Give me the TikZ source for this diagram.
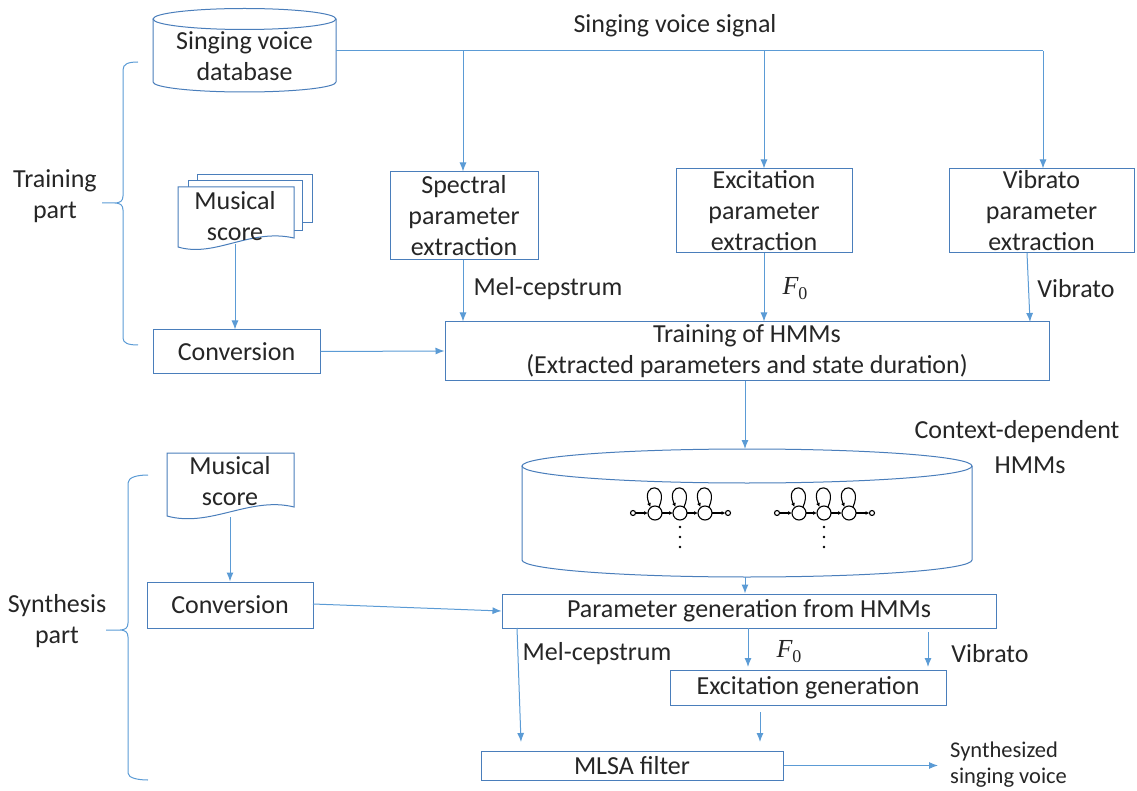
\documentclass[tikz,border=0pt]{standalone}
\usepackage{fontspec}
\setmainfont{Carlito}
\newfontfamily\serifm{Liberation Serif}
\usetikzlibrary{arrows.meta}
\definecolor{boxc}{HTML}{4A7EBB}
\definecolor{linec}{HTML}{5B9BD5}
\definecolor{txt}{HTML}{262626}
\newcommand{\Fzero}{{\serifm\itshape F}{\serifm\raisebox{-5pt}{\fontsize{18}{18}\selectfont 0}}}
\newcommand{\hmmchain}[2]{%
 \begin{scope}[shift={(#1,#2)}, black, line width=1.1pt]
  \draw (0,0) circle[radius=2.5pt];
  \foreach \s in {22,47,72} {
    \draw (\s,0) circle[radius=7pt];
    \draw[-{Latex[length=4pt,width=4pt]}] (\s+4,-6) .. controls (\s+15,-31) and (\s-15,-31) .. (\s-4.5,-6);
  }
  \draw[-{Latex[length=4pt,width=4pt]}] (2.5,0) -- (15,0);
  \draw[-{Latex[length=4pt,width=4pt]}] (29,0) -- (40,0);
  \draw[-{Latex[length=4pt,width=4pt]}] (54,0) -- (65,0);
  \draw[-{Latex[length=4pt,width=4pt]}] (79,0) -- (92.5,0);
  \draw (95,0) circle[radius=2.5pt];
  \foreach \d in {14,24,34} \fill (47,\d) circle[radius=1.4pt];
 \end{scope}}
\begin{document}
\begin{tikzpicture}[x=1pt,y=-1pt,
  every node/.style={font=\fontsize{26}{31}\selectfont, text=txt},
  box/.style={draw=boxc, line width=1pt, fill=white, inner sep=0pt, align=center},
  lbl/.style={inner sep=0pt, align=center},
  ln/.style={draw=linec, line width=1pt},
  arr/.style={draw=linec, line width=1pt, -{Latex[length=9pt,width=7pt]}},
  shp/.style={draw=boxc, line width=1pt, fill=white}]
\useasboundingbox (0,0) rectangle (1137,791);

% ---------- database cylinder
\draw[shp] (153,19) -- (153,82) arc[start angle=180,end angle=360,x radius=91.5pt,y radius=10pt] -- (336,19);
\draw[shp] (244.5,19) ellipse[x radius=91.5pt, y radius=10.5pt];
\node[lbl] (db) at (244.5,56) {Singing voice\\database};
\coordinate (dbR) at (336,51);
\coordinate (j1) at (463,51);
\coordinate (j2) at (764,51);
\coordinate (j3) at (1043,51);
\node[lbl] (sig) at (675,26) {Singing voice signal};

% ---------- extraction boxes
\node[box, minimum width=148pt, minimum height=88pt] (spec) at (464,216) {Spectral\\parameter\\extraction};
\node[box, minimum width=176pt, minimum height=84pt] (exc) at (764,211) {Excitation\\parameter\\extraction};
\node[box, minimum width=185pt, minimum height=84pt] (vib) at (1041.5,211) {Vibrato\\parameter\\extraction};

\draw[ln] (dbR) -- (j3);
\draw[arr] (j1) -- (j1 |- spec.north);
\draw[arr] (j2) -- (j2 |- exc.north);
\draw[arr] (j3) -- (j3 |- vib.north);

% ---------- training box
\node[box, minimum width=604pt, minimum height=58pt] (train) at (747,351) {Training of HMMs\\(Extracted parameters and state duration)};
\draw[arr] (j1 |- spec.south) -- (j1 |- train.north);
\draw[arr] (j2 |- exc.south) -- (j2 |- train.north);
\coordinate (v1) at (1027,253);
\coordinate (v2) at (1030,322);
\draw[arr] (v1) -- (v2);
\node[lbl] (mc1) at (548,289) {Mel-cepstrum};
\node[lbl] (f01) at (795,289) {\Fzero};
\node[lbl] (vb1) at (1076,289) {Vibrato};

% ---------- musical score (training)
\draw[shp] (197,175) rectangle (312,223);
\draw[shp] (188,181) rectangle (302,231);
\draw[shp] (178,187) -- (294,187) -- (294,238) .. controls (250,228) and (215,258) .. (178,247) -- cycle;
\node[lbl] (score1) at (235,216) {Musical\\score};
\node[box, minimum width=167pt, minimum height=43pt] (conv1) at (236.5,351.5) {Conversion};
\coordinate (s1b) at (235,244);
\draw[arr] (s1b) -- (s1b |- conv1.north);
\draw[arr] (conv1.east) -- (train.west);

% ---------- braces
\draw[ln] (138,62) .. controls (128,62) and (123,64) .. (123,70) -- (123,196)
  .. controls (123,201) and (120,203) .. (115,203) -- (102,203)
  (115,203) .. controls (120,203) and (123,205) .. (123,210) -- (123,338)
  .. controls (123,343) and (128,345) .. (138,345);
\node[lbl] (trp) at (55,196) {Training\\part};
\draw[ln] (148,475) .. controls (138,475) and (128,477) .. (128,483) -- (128,623)
  .. controls (128,628) and (125,630) .. (120,630) -- (106,630)
  (120,630) .. controls (125,630) and (128,632) .. (128,637) -- (128,773)
  .. controls (128,778) and (138,780) .. (148,780);
\node[lbl] (syp) at (57,621) {Synthesis\\part};

% ---------- HMM cylinder
\draw[arr] (train.south -| 745,0) -- (745,449);
\draw[shp] (522,466) -- (522,560) arc[start angle=180,end angle=360,x radius=225pt,y radius=17pt] -- (972,466);
\draw[shp] (747,466) ellipse[x radius=225pt, y radius=17pt];
\coordinate (cylb) at (745,577);
\hmmchain{633}{513}
\hmmchain{777}{513}
\node[lbl] (cdh) at (1017,432) {Context-dependent};
\node[lbl] (hmms) at (1030,465) {HMMs};

% ---------- synthesis part
\node[box, minimum width=494pt, minimum height=34pt] (pg) at (749,611) {Parameter generation from HMMs};
\draw[arr] (cylb) -- (cylb |- pg.north);
\draw[shp] (167,453) -- (294,453) -- (294,507) .. controls (250,496) and (210,528) .. (167,516) -- cycle;
\node[lbl] (score2) at (230,481) {Musical\\score};
\node[box, minimum width=166pt, minimum height=46pt] (conv2) at (230,605) {Conversion};
\coordinate (s2b) at (230,517);
\draw[arr] (s2b) -- (s2b |- conv2.north);
\coordinate (c2e) at (313,604);
\draw[arr] (c2e) -- (pg.west);

\node[box, minimum width=276pt, minimum height=35pt] (eg) at (808,687.5) {Excitation generation};
\node[box, minimum width=302pt, minimum height=29pt] (mlsa) at (632,765.5) {MLSA filter};

\coordinate (m1) at (517,628);
\coordinate (m2) at (521,742);
\draw[arr] (m1) -- (m2);
\draw[arr] (748,628) -- (748,667);
\coordinate (vb2a) at (928,632);
\coordinate (vb2b) at (928,667);
\draw[arr] (vb2a) -- (vb2b);
\coordinate (e1) at (760,712);
\coordinate (e2) at (760,742);
\draw[arr] (e1) -- (e2);
\node[lbl] (mc2) at (597,654) {Mel-cepstrum};
\node[lbl] (f02) at (789,652) {\Fzero};
\node[lbl] (vb2) at (990,654) {Vibrato};

\coordinate (outp) at (938,765.5);
\draw[arr] (mlsa.east) -- (outp);
\node[lbl, align=left, anchor=west, font=\fontsize{22.5}{26}\selectfont] (synth) at (950,765) {Synthesized\\singing voice};
\end{tikzpicture}
\end{document}
